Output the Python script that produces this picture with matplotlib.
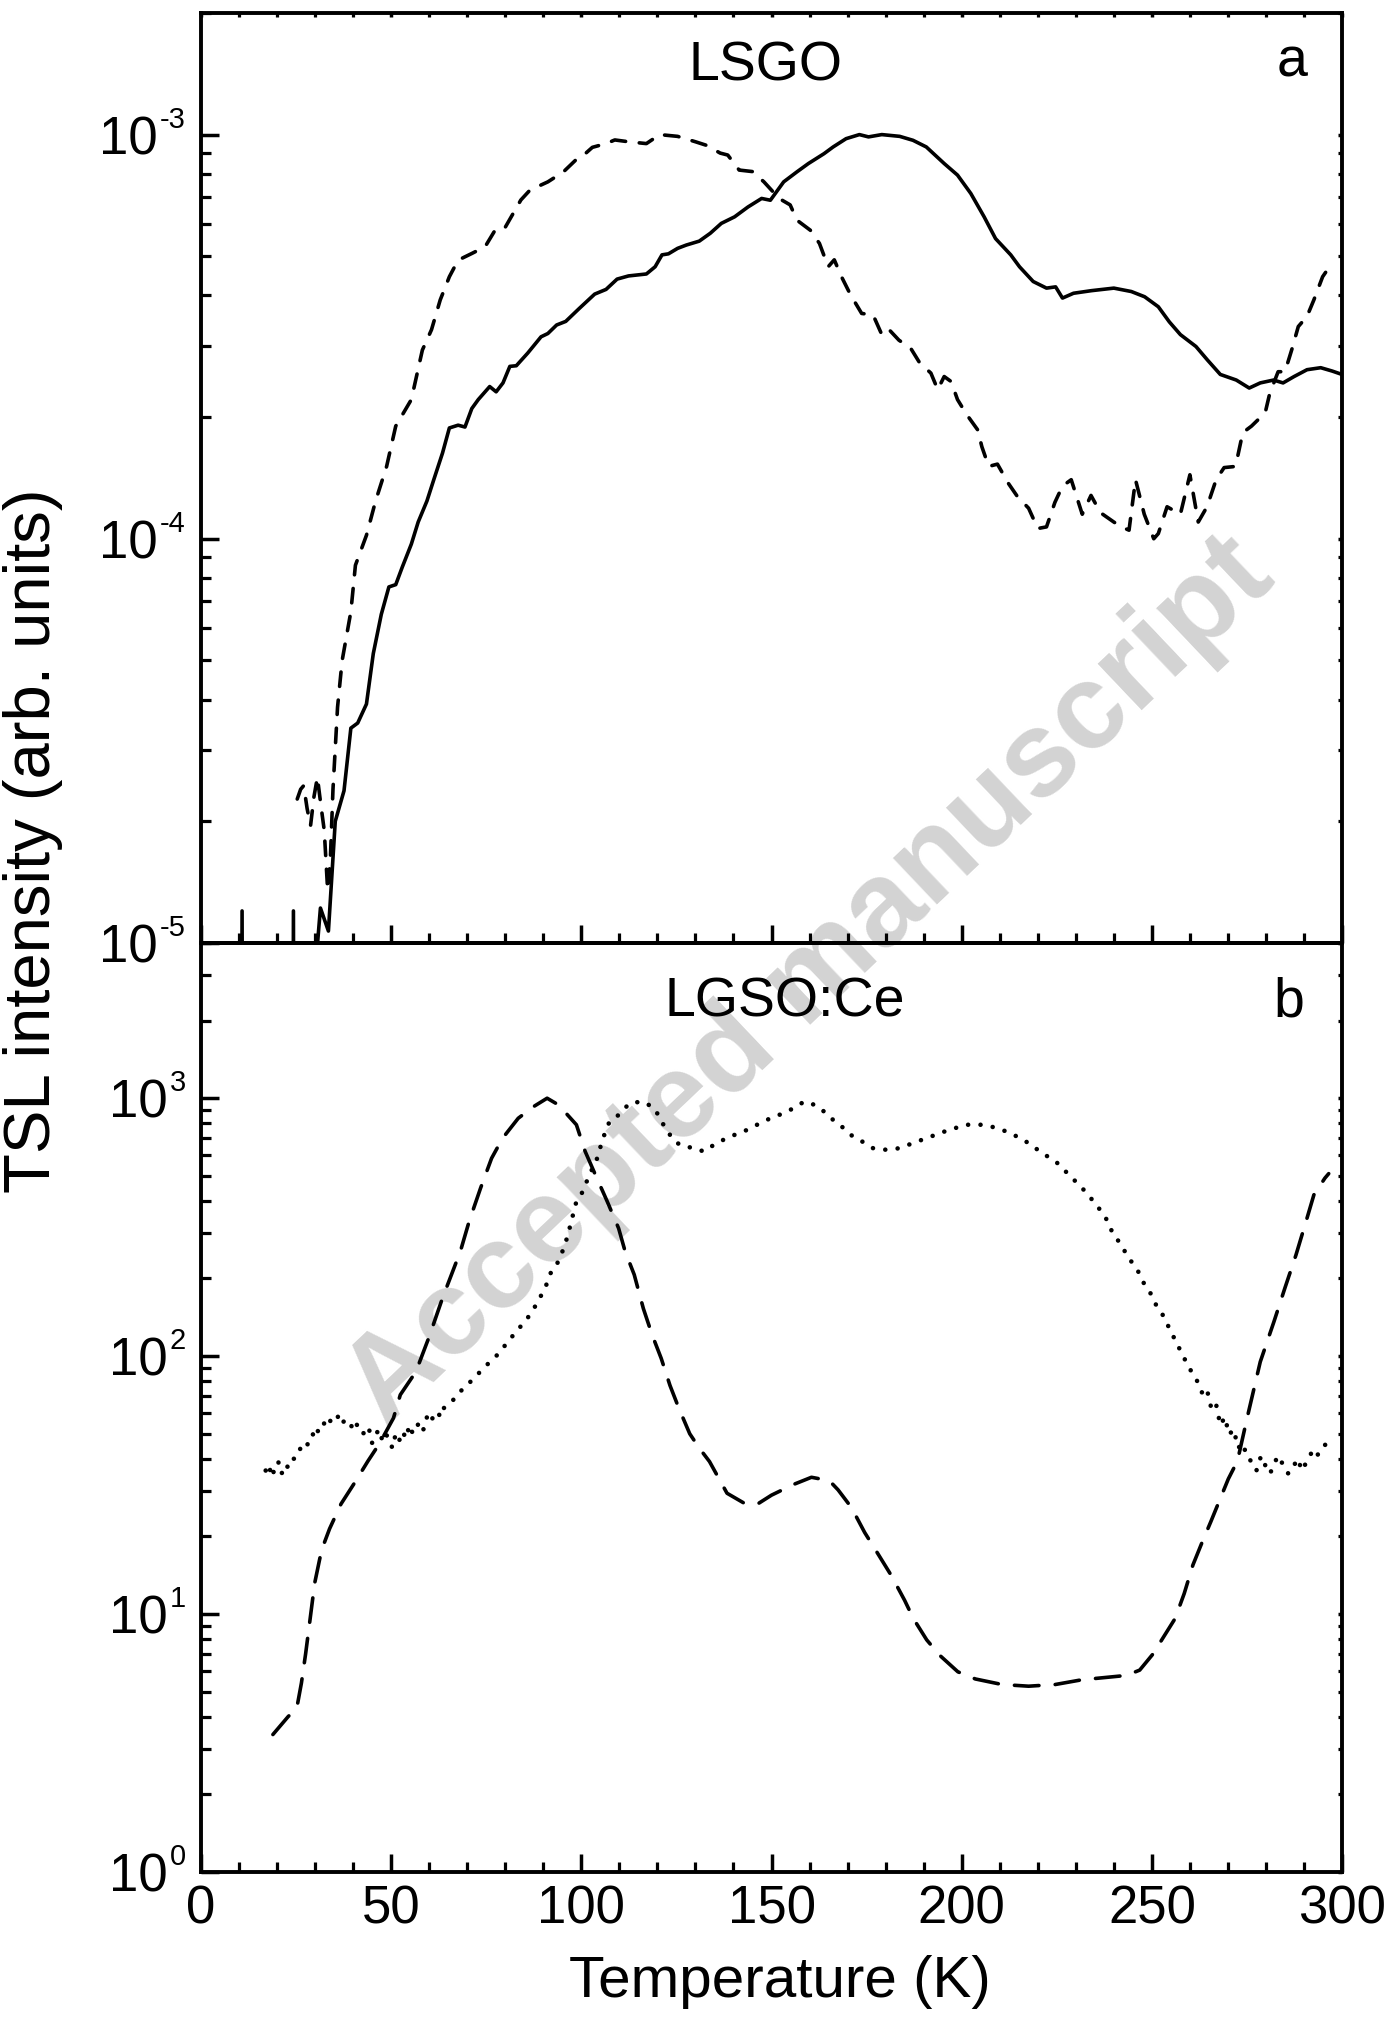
import numpy as np
import matplotlib
matplotlib.use('Agg')
import matplotlib.pyplot as plt
from matplotlib.ticker import FixedLocator, MultipleLocator, NullFormatter, LogLocator

plt.rcParams['font.family'] = ['Liberation Sans', 'DejaVu Sans']

# --- LSGO (panel a) ---
lsgo_solid_T = [10.3, 10.8, 11.3, 23.8, 24.3, 24.8, 29.8, 31.4, 33.5, 35.3, 37.6, 39.4, 41.2, 43.5, 45.3,
                47.4, 49.4, 51.2, 52.9, 55.3, 57.1, 59.4, 61.2, 63.5, 65.3, 67.6, 69.4, 71.2, 72.9,
                75.9, 77.6, 79.4, 81.2, 82.9, 85.9, 89.4, 91.2, 93.5, 95.9, 99.4, 103.5, 106.5,
                109.4, 112.4, 117.1, 119.4, 121.2, 122.9, 125.3, 127.6, 131.0, 133.9, 136.8, 140.3,
                143.8, 147.4, 149.7, 153.2, 156.7, 159.7, 163.8, 166.2, 169.6, 173.1, 175.5, 179.0,
                183.7, 187.2, 190.7, 195.4, 198.9, 202.4, 205.9, 208.9, 212.9, 215.2, 218.8, 222.3,
                224.7, 226.5, 229.4, 234.1, 240.0, 244.6, 248.1, 251.7, 254.6, 257.5, 261.6, 264.6,
                268.0, 272.2, 275.6, 278.5, 282.0, 284.5, 287.4, 290.8, 294.4, 297.4, 300.0]
lsgo_solid_I = [1e-7, 1.2e-5, 1e-7, 1e-7, 1.2e-5, 1e-7, 8e-6, 1.22e-5, 1.07e-5, 2.0e-5, 2.38e-5, 3.4e-5,
                3.5e-5, 3.9e-5, 5.2e-5, 6.5e-5, 7.6e-5, 7.7e-5, 8.5e-5, 9.7e-5, 1.1e-4, 1.24e-4,
                1.40e-4, 1.63e-4, 1.88e-4, 1.91e-4, 1.89e-4, 2.10e-4, 2.21e-4, 2.38e-4, 2.31e-4,
                2.43e-4, 2.67e-4, 2.68e-4, 2.88e-4, 3.16e-4, 3.22e-4, 3.38e-4, 3.45e-4, 3.71e-4,
                4.03e-4, 4.14e-4, 4.39e-4, 4.47e-4, 4.52e-4, 4.71e-4, 5.04e-4, 5.07e-4, 5.23e-4,
                5.33e-4, 5.45e-4, 5.70e-4, 6.03e-4, 6.26e-4, 6.62e-4, 6.95e-4, 6.88e-4, 7.64e-4,
                8.09e-4, 8.48e-4, 8.97e-4, 9.32e-4, 9.77e-4, 1.0e-3, 9.87e-4, 1.0e-3, 9.9e-4,
                9.68e-4, 9.32e-4, 8.48e-4, 7.94e-4, 7.15e-4, 6.26e-4, 5.53e-4, 5.04e-4, 4.71e-4,
                4.33e-4, 4.17e-4, 4.20e-4, 3.94e-4, 4.05e-4, 4.11e-4, 4.17e-4, 4.09e-4, 3.97e-4,
                3.75e-4, 3.44e-4, 3.20e-4, 2.99e-4, 2.77e-4, 2.55e-4, 2.47e-4, 2.36e-4, 2.43e-4,
                2.47e-4, 2.43e-4, 2.52e-4, 2.62e-4, 2.65e-4, 2.60e-4, 2.55e-4]

lsgo_dash_T = [25.3, 26.2, 27.0, 27.9, 28.8, 29.7, 30.6, 31.5, 32.4, 33.3, 34.0, 34.7, 35.9, 37.1, 39.4,
               40.6, 43.5, 45.9, 48.8, 51.2, 55.3, 58.2, 60.6, 62.9, 65.3, 67.6, 71.2, 74.7, 77.6,
               80.0, 84.1, 86.5, 91.2, 95.3, 99.4, 101.2, 102.9, 106.5, 108.8, 112.4, 117.1, 120.6,
               125.3, 130.0, 133.0, 136.5, 138.5, 141.5, 145.0, 148.0, 152.0, 154.9, 156.7, 160.2,
               162.6, 164.9, 166.5, 168.4, 170.8, 173.7, 176.7, 179.0, 180.8, 183.5, 186.6, 189.0,
               191.9, 193.7, 195.4, 197.2, 198.9, 201.3, 204.2, 205.3, 207.1, 209.4, 212.3, 214.7,
               217.6, 220.0, 222.3, 224.5, 226.5, 228.8, 231.7, 234.0, 236.5, 240.0, 242.0, 244.0,
               245.7, 248.0, 250.5, 251.7, 254.0, 257.5, 260.0, 262.2, 264.5, 266.9, 269.0, 272.0,
               273.9, 276.2, 279.8, 281.0, 283.2, 285.0, 286.8, 288.5, 290.8, 292.6, 294.9, 296.7]
lsgo_dash_I = [2.27e-5, 2.4e-5, 2.45e-5, 2.15e-5, 1.95e-5, 2.3e-5, 2.57e-5, 2.2e-5, 1.9e-5, 1.35e-5,
               1.6e-5, 2.4e-5, 3.83e-5, 4.99e-5, 6.6e-5, 8.6e-5, 1.02e-4, 1.24e-4, 1.51e-4, 1.90e-4,
               2.21e-4, 2.93e-4, 3.29e-4, 3.9e-4, 4.45e-4, 4.89e-4, 5.08e-4, 5.28e-4, 5.86e-4, 5.9e-4,
               6.89e-4, 7.29e-4, 7.64e-4, 8.09e-4, 8.81e-4, 9.0e-4, 9.3e-4, 9.5e-4, 9.7e-4, 9.6e-4,
               9.5e-4, 1.0e-3, 9.9e-4, 9.6e-4, 9.4e-4, 9.0e-4, 8.9e-4, 8.17e-4, 8.1e-4, 7.64e-4,
               6.95e-4, 6.7e-4, 6.14e-4, 5.8e-4, 5.38e-4, 4.71e-4, 4.9e-4, 4.45e-4, 4.01e-4, 3.61e-4,
               3.58e-4, 3.2e-4, 3.3e-4, 3.1e-4, 2.96e-4, 2.72e-4, 2.57e-4, 2.34e-4, 2.52e-4, 2.45e-4,
               2.21e-4, 2.03e-4, 1.86e-4, 1.69e-4, 1.51e-4, 1.53e-4, 1.37e-4, 1.27e-4, 1.19e-4,
               1.06e-4, 1.07e-4, 1.23e-4, 1.35e-4, 1.40e-4, 1.15e-4, 1.28e-4, 1.16e-4, 1.10e-4,
               1.07e-4, 1.05e-4, 1.40e-4, 1.15e-4, 1.00e-4, 1.03e-4, 1.2e-4, 1.15e-4, 1.44e-4,
               1.10e-4, 1.2e-4, 1.40e-4, 1.5e-4, 1.51e-4, 1.83e-4, 1.90e-4, 2.05e-4, 2.29e-4,
               2.59e-4, 2.59e-4, 2.94e-4, 3.35e-4, 3.55e-4, 3.9e-4, 4.45e-4, 4.71e-4]

# --- LGSO:Ce (panel b) ---
lgso_dash_T = [18.9, 22.9, 25.2, 26.4, 27.5, 28.7, 29.9, 31.7, 33.8, 36.8, 40.4, 43.9, 47.0, 50.6, 52.4,
               56.5, 60.0, 63.5, 68.2, 70.5, 73.5, 76.4, 79.3, 83.4, 87.5, 91.0, 94.0, 98.7, 101.0,
               103.3, 106.8, 109.8, 111.5, 113.9, 116.3, 118.6, 121.0, 123.3, 125.6, 128.5, 131.0,
               133.7, 138.3, 143.0, 146.5, 150.0, 155.8, 160.5, 165.2, 167.5, 171.0, 174.5, 178.0,
               181.5, 185.0, 187.3, 190.8, 194.3, 199.0, 203.6, 210.6, 217.6, 224.6, 231.6, 238.6,
               243.3, 246.8, 250.3, 252.6, 256.1, 258.5, 260.8, 263.1, 265.5, 267.8, 270.1, 272.5,
               275.1, 278.5, 282.1, 285.0, 287.9, 290.8, 292.6, 295.5, 296.5]
lgso_dash_I = [3.41, 4.0, 4.33, 5.4, 7.0, 9.6, 13.2, 17.7, 21.4, 26.7, 32.3, 39.2, 46, 57.5, 70.8, 87,
               119, 168, 255, 333, 448, 585, 700, 836, 929, 1000, 942, 789, 622, 520, 398, 313, 255,
               207, 153, 121, 98, 77, 63, 50, 44, 39, 29.4, 26.8, 26.8, 28.9, 31.8, 33.9, 32.9, 30.3,
               25.9, 20.7, 17.1, 14.1, 11.3, 9.6, 7.94, 6.9, 5.97, 5.6, 5.33, 5.25, 5.33, 5.56, 5.69,
               5.78, 6.06, 7.0, 7.94, 9.6, 12.0, 15.5, 18.8, 22.8, 27.6, 33.4, 39.2, 58, 95, 136,
               184, 247, 343, 422, 490, 510]

lgso_dot_T = [17.0, 17.8, 18.6, 19.5, 20.3, 21.2, 22.0, 23.0, 24.0, 24.8, 25.8, 26.6, 27.5, 28.4, 29.3,
              30.2, 31.0, 31.9, 32.8, 33.7, 34.5, 35.4, 36.3, 37.2, 38.0, 38.9, 39.8, 40.7, 41.5,
              42.4, 43.3, 44.2, 45.0, 45.9, 46.8, 47.7, 48.5, 49.4, 50.3, 51.2, 52.1, 53.0, 53.9,
              54.8, 55.7, 56.6, 57.6, 58.5, 59.4, 60.3, 61.2, 62.1, 63.0, 63.9, 64.7, 66.5, 68.2,
              69.9, 71.7, 73.4, 75.2, 77.0, 78.7, 80.5, 82.2, 84.0, 85.8, 88.1, 90.5, 92.1, 94.0,
              95.7, 96.9, 98.7, 100.4, 102.1, 103.9, 105.7, 107.4, 109.8, 112.7, 116.2, 119.2,
              122.1, 124.5, 126.8, 130.2, 132.1, 135.6, 139.1, 142.7, 146.2, 149.7, 153.2, 156.7,
              158.5, 161.4, 163.8, 166.2, 169.0, 171.4, 173.8, 176.7, 180.2, 183.7, 187.2, 191.9,
              196.6, 201.3, 205.9, 209.4, 212.9, 217.6, 221.2, 224.7, 228.2, 231.7, 234.0, 236.4,
              238.2, 239.9, 241.7, 243.4, 245.2, 246.4, 248.1, 249.9, 251.1, 252.8, 254.6, 256.3,
              258.1, 259.8, 261.6, 263.4, 264.5, 265.6, 266.8, 268.0, 269.2, 270.3, 271.5, 272.7,
              273.9, 275.1, 276.3, 277.5, 278.7, 279.9, 281.1, 282.3, 283.5, 284.7, 285.9, 287.1,
              288.3, 289.5, 290.7, 291.9, 293.1, 294.3, 295.5, 296.3]
lgso_dot_I = [36, 38, 34, 37, 39, 35, 38, 37, 40, 40, 43, 45, 44, 46.7, 50, 48, 53, 52.6, 57, 55, 58,
              56.6, 59, 55, 57, 55, 53, 56, 51, 51, 49, 52, 46, 49.5, 52, 47, 50, 48, 44, 50, 47, 51,
              48, 54, 50, 53, 55.8, 52, 58, 55, 59, 61, 58, 63, 64.8, 68, 73, 77, 82, 87, 92.6, 98,
              104, 113, 121, 130, 140, 158, 184, 213, 233, 270, 313, 398, 435, 505, 569, 700, 812,
              861, 957, 971, 915, 765, 680, 650, 640, 621, 670, 710, 743, 789, 836, 875, 929, 970,
              942, 888, 824, 765, 710, 680, 640, 631, 640, 670, 710, 753, 789, 789, 765, 732, 670,
              612, 569, 505, 448, 409, 369, 337, 295, 274, 247, 226, 213, 189, 173, 158, 145, 128,
              114, 101, 90, 82, 71, 74, 63, 66, 54, 58, 49.6, 52, 44, 46, 40.3, 39, 36, 41, 37.5,
              35, 39, 41, 37, 35, 37, 40, 36, 39, 42, 40, 43.5, 45, 49]

x_major = [0, 50, 100, 150, 200, 250, 300]
x_labels = ['0', '50', '100', '150', '200', '250', '300']
top_yticks = [1e-5, 1e-4, 1e-3]
top_exps = ['-5', '-4', '-3']
bot_yticks = [1e0, 1e1, 1e2, 1e3]
bot_exps = ['0', '1', '2', '3']

fig = plt.figure(figsize=(13.92, 20.20), dpi=100)
ax1 = fig.add_axes([0.1444, 0.5332, 0.8197, 0.4604])
ax2 = fig.add_axes([0.1444, 0.0733, 0.8197, 0.4599])

ax1.plot(lsgo_solid_T, lsgo_solid_I, color='black', lw=2.6)
ax1.plot(lsgo_dash_T, lsgo_dash_I, color='black', lw=2.6, linestyle=(0, (4.0, 3.8)),
         dash_capstyle='round')
ax2.plot(lgso_dash_T, lgso_dash_I, color='black', lw=2.6, linestyle=(0, (6.8, 4.5)),
         dash_capstyle='round')
ax2.plot(lgso_dot_T, lgso_dot_I, color='black', lw=3.3, linestyle=(0, (0.01, 2.7)),
         dash_capstyle='round')


def tenpow_labels(ax, ticks, exps):
    # "10" plus a small raised exponent, right aligned next to the axis
    ytr = ax.get_yaxis_transform()
    for val, e in zip(ticks, exps):
        ex = ax.annotate(e, xy=(0, val), xycoords=ytr, xytext=(-11, 5),
                         textcoords='offset points', ha='right', va='baseline',
                         fontsize=21, annotation_clip=False)
        ax.annotate('10', xy=(0, val), xycoords=(ex, ytr), xytext=(-1.5, -14),
                    textcoords='offset points', ha='right', va='baseline',
                    fontsize=38, annotation_clip=False)


for ax, yt, ex, lim in [(ax1, top_yticks, top_exps, (1e-5, 2e-3)),
                        (ax2, bot_yticks, bot_exps, (1, 4e3))]:
    ax.set_facecolor('none')
    ax.set_yscale('log')
    ax.set_ylim(*lim)
    ax.set_xlim(0, 300)
    ax.yaxis.set_major_locator(FixedLocator(yt))
    ax.yaxis.set_major_formatter(NullFormatter())
    ax.yaxis.set_minor_locator(LogLocator(base=10, subs=np.arange(2, 10)))
    ax.yaxis.set_minor_formatter(NullFormatter())
    ax.xaxis.set_major_locator(FixedLocator(x_major))
    ax.xaxis.set_minor_locator(MultipleLocator(10))
    for s in ax.spines.values():
        s.set_linewidth(2.8)
    ax.tick_params(which='major', direction='in', length=13, width=2.5,
                   left=True, bottom=True, right=True, top=False)
    ax.tick_params(which='minor', direction='in', length=7, width=2.3,
                   left=True, bottom=True, right=True, top=False)
    tenpow_labels(ax, yt, ex)

ax1.tick_params(axis='x', which='both', labelbottom=False, top=True)
ax2.set_xticklabels(x_labels)
ax2.tick_params(axis='x', which='major', pad=9, labelsize=38)

# only tiny stubs on the right side (and top of panel a)
for t in ax1.yaxis.get_major_ticks() + ax1.yaxis.get_minor_ticks() + \
        ax2.yaxis.get_major_ticks() + ax2.yaxis.get_minor_ticks():
    t.tick2line.set_markersize(3)
for t in ax1.xaxis.get_major_ticks() + ax1.xaxis.get_minor_ticks():
    t.tick2line.set_markersize(3)

ax1.text(0.495, 0.942, 'LSGO', transform=ax1.transAxes, fontsize=40, ha='center', va='center')
ax1.text(0.956, 0.947, 'a', transform=ax1.transAxes, fontsize=40, ha='center', va='center')
ax2.text(0.512, 0.936, 'LGSO:Ce', transform=ax2.transAxes, fontsize=40, ha='center', va='center')
ax2.text(0.953, 0.936, 'b', transform=ax2.transAxes, fontsize=40, ha='center', va='center')

fig.text(0.024, 0.584, 'TSL intensity (arb. units)', rotation=90, fontsize=47,
         ha='center', va='center')
fig.text(0.56, 0.019, 'Temperature (K)', fontsize=42, ha='center', va='center')

fig.text(0.582, 0.514, 'Accepted manuscript', rotation=43.5, fontsize=87, fontweight='bold',
         color='#d3d3d3', ha='center', va='center', zorder=-1, rotation_mode='anchor')

fig.savefig('out.png', dpi=100)
